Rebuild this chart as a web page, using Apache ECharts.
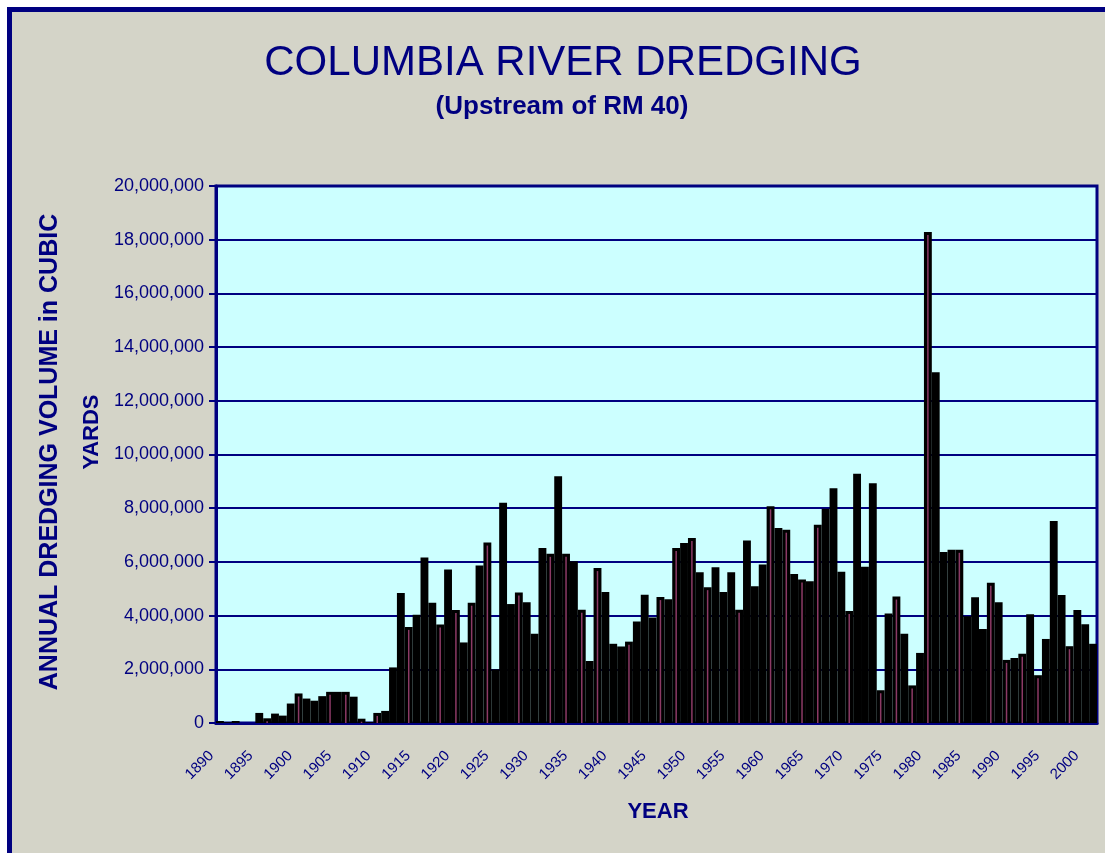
<!DOCTYPE html>
<html><head><meta charset="utf-8">
<script src="https://cdn.jsdelivr.net/npm/echarts@6/dist/echarts.min.js"></script>
<style>html,body{margin:0;padding:0;background:#fff;} #c{width:1105px;height:853px;}</style>
</head><body><div id="c"></div>
<script>
const years = [
 1890,1891,1892,1893,1894,1895,1896,1897,1898,1899,
 1900,1901,1902,1903,1904,1905,1906,1907,1908,1909,
 1910,1911,1912,1913,1914,1915,1916,1917,1918,1919,
 1920,1921,1922,1923,1924,1925,1926,1927,1928,1929,
 1930,1931,1932,1933,1934,1935,1936,1937,1938,1939,
 1940,1941,1942,1943,1944,1945,1946,1947,1948,1949,
 1950,1951,1952,1953,1954,1955,1956,1957,1958,1959,
 1960,1961,1962,1963,1964,1965,1966,1967,1968,1969,
 1970,1971,1972,1973,1974,1975,1976,1977,1978,1979,
 1980,1981,1982,1983,1984,1985,1986,1987,1988,1989,
 1990,1991,1992,1993,1994,1995,1996,1997,1998,1999,
 2000,2001
];
const volumes = [
 75000,30000,75000,0,0,375000,175000,350000,275000,725000,
 1100000,910000,830000,1000000,1160000,1160000,1160000,980000,160000,40000,
 375000,450000,2070000,4840000,3580000,4030000,6160000,4480000,3670000,5720000,
 4210000,3000000,4480000,5870000,6720000,2000000,8200000,4430000,4860000,4500000,
 3320000,6520000,6300000,9190000,6300000,6020000,4220000,2310000,5770000,4880000,
 2950000,2850000,3030000,3780000,4780000,3930000,4690000,4610000,6520000,6700000,
 6890000,5610000,5060000,5800000,4880000,5610000,4220000,6800000,5090000,5900000,
 8070000,7260000,7200000,5550000,5340000,5280000,7380000,7980000,8740000,5630000,
 4170000,9280000,5820000,8930000,1220000,4080000,4710000,3320000,1400000,2610000,
 18290000,13060000,6370000,6450000,6450000,3980000,4680000,3500000,5220000,4500000,
 2350000,2420000,2580000,4050000,1780000,3130000,7520000,4770000,2860000,4210000,
 3680000,2950000
];
const chartTitle = 'COLUMBIA RIVER DREDGING';
const subTitle = '(Upstream of RM 40)';
const yNameLine1 = 'ANNUAL DREDGING VOLUME in CUBIC';
const yNameLine2 = 'YARDS';
const xName = 'YEAR';

const navy = '#000080';
const fam = '"Liberation Sans", Arial, sans-serif';
const fmt = v => String(v).replace(/\B(?=(\d{3})+(?!\d))/g, ',');
// thin plum streaks seen inside the black columns
const streakData = volumes.map((v, i) => [i, v])
  .filter(d => d[0] % 2 === 0 && (d[0] - 8) % 14 !== 0 && (d[0] - 12) % 14 !== 0);

const chart = echarts.init(document.getElementById('c'), null, {renderer: 'canvas'});
chart.setOption({
  animation: false,
  backgroundColor: '#ffffff',
  graphic: [
    {type: 'rect', z: -10, silent: true, shape: {x: 9.5, y: 9.5, width: 1120, height: 870},
     style: {fill: '#d4d4c8', stroke: navy, lineWidth: 5}},
    {type: 'text', x: 563, y: 63, style: {text: chartTitle, font: '42px ' + fam, fill: navy, textAlign: 'center', textVerticalAlign: 'middle'}},
    {type: 'text', x: 562, y: 107, style: {text: subTitle, font: 'bold 26px ' + fam, fill: navy, textAlign: 'center', textVerticalAlign: 'middle'}},
    {type: 'text', x: 50, y: 452, rotation: Math.PI / 2, style: {text: yNameLine1, font: 'bold 25px ' + fam, fill: navy, textAlign: 'center', textVerticalAlign: 'middle'}},
    {type: 'text', x: 92, y: 432, rotation: Math.PI / 2, style: {text: yNameLine2, font: 'bold 22px ' + fam, fill: navy, textAlign: 'center', textVerticalAlign: 'middle'}},
    {type: 'text', x: 658, y: 812, style: {text: xName, font: 'bold 22px ' + fam, fill: navy, textAlign: 'center', textVerticalAlign: 'middle'}}
  ],
  grid: {left: 216, top: 186, right: 8, bottom: 130, show: true, backgroundColor: '#ccffff', borderColor: navy, borderWidth: 3},
  xAxis: {
    type: 'category', data: years, boundaryGap: true,
    axisLine: {lineStyle: {color: navy, width: 3}},
    axisTick: {interval: 0, length: 5, lineStyle: {color: navy, width: 1.5}},
    axisLabel: {interval: 4, rotate: 45, color: navy, fontSize: 15, fontFamily: fam, margin: 22, padding: [0, 12, 0, 0]}
  },
  yAxis: {
    type: 'value', min: 0, max: 20000000, interval: 2000000,
    axisLine: {show: true, lineStyle: {color: navy, width: 3}},
    axisTick: {show: true, length: 7, lineStyle: {color: navy, width: 2}},
    axisLabel: {formatter: fmt, color: navy, fontSize: 18, fontFamily: fam, margin: 12},
    splitLine: {lineStyle: {color: navy, width: 2}}
  },
  series: [
    {type: 'bar', data: volumes, barCategoryGap: '0%', itemStyle: {color: '#000000'}, z: 2},
    {type: 'custom', data: streakData, z: 3, silent: true,
     renderItem: function (params, api) {
       const p0 = api.coord([api.value(0), 0]);
       const p1 = api.coord([api.value(0), api.value(1)]);
       return {type: 'line', shape: {x1: p0[0], y1: p0[1], x2: p1[0], y2: Math.min(p0[1], p1[1] + 3)},
               style: {stroke: '#8c3a66', lineWidth: 1.5}};
     }}
  ]
});
</script></body></html>
